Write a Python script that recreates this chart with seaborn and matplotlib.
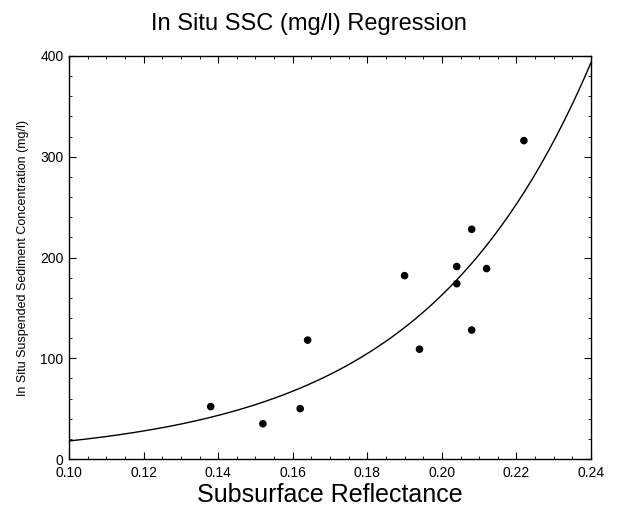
import numpy as np
import pandas as pd
import seaborn as sns
import matplotlib.pyplot as plt
from matplotlib.ticker import MultipleLocator

reflectance = [0.138, 0.152, 0.162, 0.164, 0.190, 0.194, 0.204, 0.204, 0.208, 0.208, 0.212, 0.222]
ssc = [52, 35, 50, 118, 182, 109, 191, 174, 228, 128, 189, 316]

# exponential regression y = a * exp(b * x), coefficients
fit_a = 1.97
fit_b = 22.07

sns.set_style("ticks")
plt.rcParams["font.family"] = ["Liberation Sans", "DejaVu Sans"]
plt.rcParams["text.color"] = "black"
plt.rcParams["axes.labelcolor"] = "black"
plt.rcParams["xtick.color"] = "black"
plt.rcParams["ytick.color"] = "black"

pts = pd.DataFrame({"reflectance": reflectance, "ssc": ssc})
xs = np.linspace(0.10, 0.24, 200)
curve = pd.DataFrame({"reflectance": xs, "ssc": fit_a * np.exp(fit_b * xs)})

fig = plt.figure(figsize=(6.18, 5.15), dpi=100)
ax = fig.add_axes([0.1117, 0.1087, 0.8446, 0.7826])

sns.lineplot(data=curve, x="reflectance", y="ssc", color="black", linewidth=1.0, ax=ax)
sns.scatterplot(data=pts, x="reflectance", y="ssc", color="black", s=30, edgecolor="none", ax=ax)

ax.set_xlim(0.10, 0.24)
ax.set_ylim(0, 400)
ax.xaxis.set_major_locator(MultipleLocator(0.02))
ax.xaxis.set_minor_locator(MultipleLocator(0.005))
ax.yaxis.set_major_locator(MultipleLocator(100))
ax.yaxis.set_minor_locator(MultipleLocator(20))
ax.set_xticklabels([f"{v:.2f}" for v in ax.get_xticks()])
ax.tick_params(which="both", direction="in", top=True, right=True, labelsize=10)
ax.tick_params(which="major", length=5)
ax.tick_params(which="minor", length=2.5)
ax.tick_params(axis="x", pad=5)
ax.tick_params(axis="y", pad=4)
for sp in ax.spines.values():
    sp.set_linewidth(1.0)
    sp.set_color("black")

ax.set_xlabel("Subsurface Reflectance", fontsize=18, labelpad=2)
ax.set_ylabel("In Situ Suspended Sediment Concentration (mg/l)", fontsize=9, labelpad=8)
fig.suptitle("In Situ SSC (mg/l) Regression", fontsize=17, y=0.975)

fig.savefig("out.png", dpi=100)
